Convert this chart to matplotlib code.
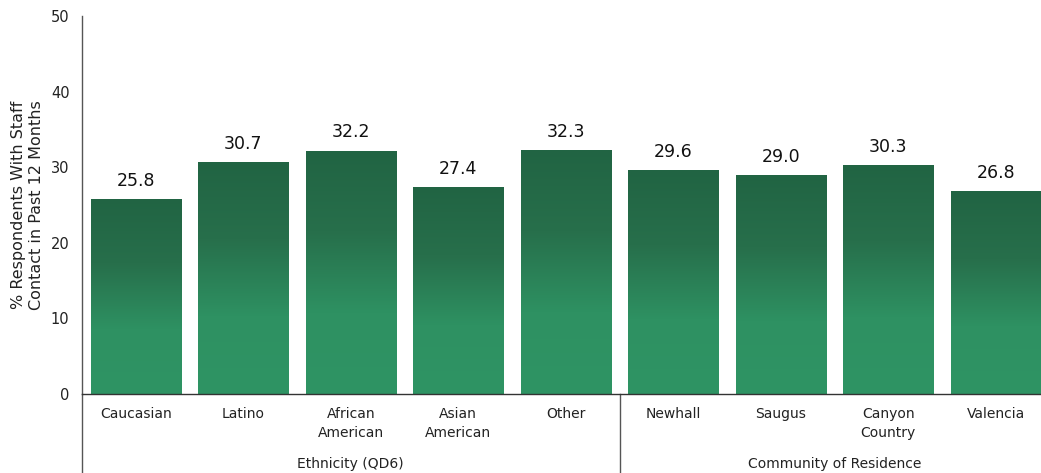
import numpy as np
import matplotlib
matplotlib.use("Agg")
import matplotlib.pyplot as plt
from matplotlib.colors import LinearSegmentedColormap
from matplotlib.patches import Rectangle
from matplotlib.lines import Line2D

categories = ["Caucasian", "Latino", "African\nAmerican", "Asian\nAmerican", "Other",
              "Newhall", "Saugus", "Canyon\nCountry", "Valencia"]
values = [25.8, 30.7, 32.2, 27.4, 32.3, 29.6, 29.0, 30.3, 26.8]
groups = ["Ethnicity (QD6)", "Community of Residence"]
group_sizes = [5, 4]
yticks = [0, 10, 20, 30, 40, 50]
ylabel = "% Respondents With Staff\nContact in Past 12 Months"

plt.rcParams['font.family'] = ['DejaVu Sans']
W, H = 1041, 473
fig = plt.figure(figsize=(W / 100, H / 100), dpi=100)
ax = fig.add_axes([82 / W, (H - 394) / H, (W - 82) / W, (394 - 16) / H])

cmap = LinearSegmentedColormap.from_list("g", ["#2f9464", "#2e9162", "#276f4b", "#216443"])
grad = np.linspace(0, 1, 256).reshape(-1, 1)
bw = 0.84
x = np.arange(len(categories))
for xi, v in zip(x, values):
    rect = Rectangle((xi - bw / 2, 0), bw, v, facecolor="none", edgecolor="none")
    ax.add_patch(rect)
    im = ax.imshow(grad, cmap=cmap, origin="lower", aspect="auto",
                   extent=(xi - bw / 2, xi + bw / 2, 0, v), interpolation="bilinear")
    im.set_clip_path(rect)
    ax.text(xi, v + 1.2, f"{v:.1f}", ha="center", va="bottom", fontsize=12.5, color="#111111")

ax.set_xlim(-0.5, -0.5 + (W - 82) / 107.5)
ax.set_ylim(0, 50)
ax.set_yticks(yticks)
ax.set_xticks([])
ax.tick_params(axis="y", length=0, pad=9, labelsize=10.5, colors="#222222")
for s in ["top", "right"]:
    ax.spines[s].set_visible(False)
ax.spines["left"].set_color("#555555")
ax.spines["bottom"].set_color("#333333")
ax.spines["left"].set_linewidth(1.0)
ax.spines["bottom"].set_linewidth(1.0)

ax.set_ylabel(ylabel, fontsize=11.5, color="#222222", linespacing=1.22)
ax.yaxis.set_label_coords(-0.0395, 0.5)

trans = ax.get_xaxis_transform()
for xi, c in zip(x, categories):
    ax.text(xi, -0.035, c, transform=trans, ha="center", va="top", fontsize=10,
            color="#222222", linespacing=1.45)

start = 0
dy = -(H - 394) / (394 - 16)
for g, n in zip(groups, group_sizes):
    center = start + (n - 1) / 2
    ax.text(center, -0.186, g, transform=trans, ha="center", va="center", fontsize=10, color="#222222")
    start += n

# vertical separators
ax.add_line(Line2D([-0.5, -0.5], [0, dy], transform=trans, color="#555555", lw=1.0, clip_on=False))
ax.add_line(Line2D([4.5, 4.5], [0, dy], transform=trans, color="#555555", lw=1.0, clip_on=False))

fig.savefig("out.png", dpi=100)
